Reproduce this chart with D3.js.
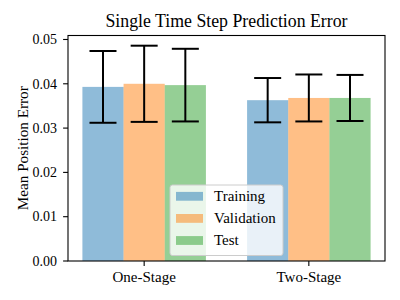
<!DOCTYPE html>
<html>
<head>
<meta charset="utf-8">
<script src="https://cdn.jsdelivr.net/npm/d3@7"></script>
<style>
  body { margin: 0; background: #fff; }
  text { font-family: "Liberation Serif", serif; fill: #000; }
</style>
</head>
<body>
<div id="chart"></div>
<script>
const categories = ["One-Stage", "Two-Stage"];
const seriesNames = ["Training", "Validation", "Test"];
const training = [0.0393, 0.0363];
const validation = [0.0400, 0.0368];
const test = [0.0397, 0.0368];
const trainingErr = [0.0081, 0.0050];
const validationErr = [0.0086, 0.0053];
const testErr = [0.0082, 0.0052];
const yTicks = [0, 0.01, 0.02, 0.03, 0.04, 0.05];

const width = 400;
const height = 300;
const colors = ["#1f77b4", "#ff7f0e", "#2ca02c"];
const barWidth = 0.25;

let values = [training, validation, test];
let errs = [trainingErr, validationErr, testErr];

const svg = d3.select("#chart")
              .append("svg")
              .attr("width", width)
              .attr("height", height);

// axes box, matched to the reference
let axLeft = 68, axRight = 385, axTop = 35.5, axBottom = 261;

let xScale = d3.scaleLinear().domain([-0.4625, 1.4625]).range([axLeft, axRight]);
let yScale = d3.scaleLinear().domain([0, 0.0509]).range([axBottom, axTop]);

// flat list of bars
let bars = [];
values.forEach(function(vals, s){
  vals.forEach(function(v, c){
    bars.push({s: s, c: c, v: v, e: errs[s][c], x: c + (s - 1) * barWidth});
  });
});

svg.append("g")
  .selectAll("rect")
  .data(bars)
  .join("rect")
    .attr("x", d => xScale(d.x - barWidth / 2))
    .attr("width", d => xScale(d.x + barWidth / 2) - xScale(d.x - barWidth / 2))
    .attr("y", d => yScale(d.v))
    .attr("height", d => yScale(0) - yScale(d.v))
    .attr("fill", d => colors[d.s])
    .attr("fill-opacity", 0.5);

// error bars
let capHalf = 13.5;
let eb = svg.append("g")
    .attr("stroke", "#000")
    .attr("stroke-width", 2);

eb.selectAll("line.v")
  .data(bars)
  .join("line")
    .attr("class", "v")
    .attr("x1", d => xScale(d.x))
    .attr("x2", d => xScale(d.x))
    .attr("y1", d => yScale(d.v - d.e))
    .attr("y2", d => yScale(d.v + d.e));

eb.selectAll("line.top")
  .data(bars)
  .join("line")
    .attr("class", "top")
    .attr("x1", d => xScale(d.x) - capHalf)
    .attr("x2", d => xScale(d.x) + capHalf)
    .attr("y1", d => yScale(d.v + d.e))
    .attr("y2", d => yScale(d.v + d.e));

eb.selectAll("line.bot")
  .data(bars)
  .join("line")
    .attr("class", "bot")
    .attr("x1", d => xScale(d.x) - capHalf)
    .attr("x2", d => xScale(d.x) + capHalf)
    .attr("y1", d => yScale(d.v - d.e))
    .attr("y2", d => yScale(d.v - d.e));

// frame
svg.append("rect")
  .attr("x", axLeft)
  .attr("y", axTop)
  .attr("width", axRight - axLeft)
  .attr("height", axBottom - axTop)
  .attr("fill", "none")
  .attr("stroke", "#000")
  .attr("stroke-width", 1.1);

// y axis
let yAxis = svg.append("g");
yAxis.selectAll("line")
  .data(yTicks)
  .join("line")
    .attr("x1", axLeft - 4.9)
    .attr("x2", axLeft)
    .attr("y1", d => yScale(d))
    .attr("y2", d => yScale(d))
    .attr("stroke", "#000")
    .attr("stroke-width", 1.1);
yAxis.selectAll("text")
  .data(yTicks)
  .join("text")
    .attr("x", axLeft - 11)
    .attr("y", d => yScale(d))
    .attr("dy", "0.34em")
    .attr("text-anchor", "end")
    .style("font-size", "14px")
    .text(d => d3.format(".2f")(d));

// x axis
let xAxis = svg.append("g");
xAxis.selectAll("line")
  .data(categories)
  .join("line")
    .attr("x1", (d, i) => xScale(i))
    .attr("x2", (d, i) => xScale(i))
    .attr("y1", axBottom)
    .attr("y2", axBottom + 4.9)
    .attr("stroke", "#000")
    .attr("stroke-width", 1.1);
xAxis.selectAll("text")
  .data(categories)
  .join("text")
    .attr("x", (d, i) => xScale(i))
    .attr("y", 281.5)
    .attr("text-anchor", "middle")
    .style("font-size", "15px")
    .text(d => d);

// labels
svg.append("text")
  .attr("x", (axLeft + axRight) / 2)
  .attr("y", 27)
  .attr("text-anchor", "middle")
  .style("font-size", "17.8px")
  .text("Single Time Step Prediction Error");

svg.append("text")
  .attr("transform", "translate(27.5," + ((axTop + axBottom) / 2) + ") rotate(-90)")
  .attr("text-anchor", "middle")
  .style("font-size", "15.2px")
  .text("Mean Position Error");

// legend
let legend = svg.append("g").attr("transform", "translate(170,185)");
legend.append("rect")
  .attr("width", 113)
  .attr("height", 70.5)
  .attr("rx", 2.5)
  .attr("fill", "#fff")
  .attr("fill-opacity", 0.8)
  .attr("stroke", "#cccccc")
  .attr("stroke-width", 1);

let rows = legend.selectAll("g")
  .data(seriesNames)
  .join("g")
    .attr("transform", (d, i) => "translate(0," + (11.3 + i * 22.1) + ")");
rows.append("rect")
  .attr("x", 6)
  .attr("y", -4.4)
  .attr("width", 27)
  .attr("height", 8.8)
  .attr("fill", (d, i) => colors[i])
  .attr("fill-opacity", 0.5);
rows.append("text")
  .attr("x", 44)
  .attr("dy", "0.33em")
  .style("font-size", "15px")
  .text(d => d);
</script>
</body>
</html>
